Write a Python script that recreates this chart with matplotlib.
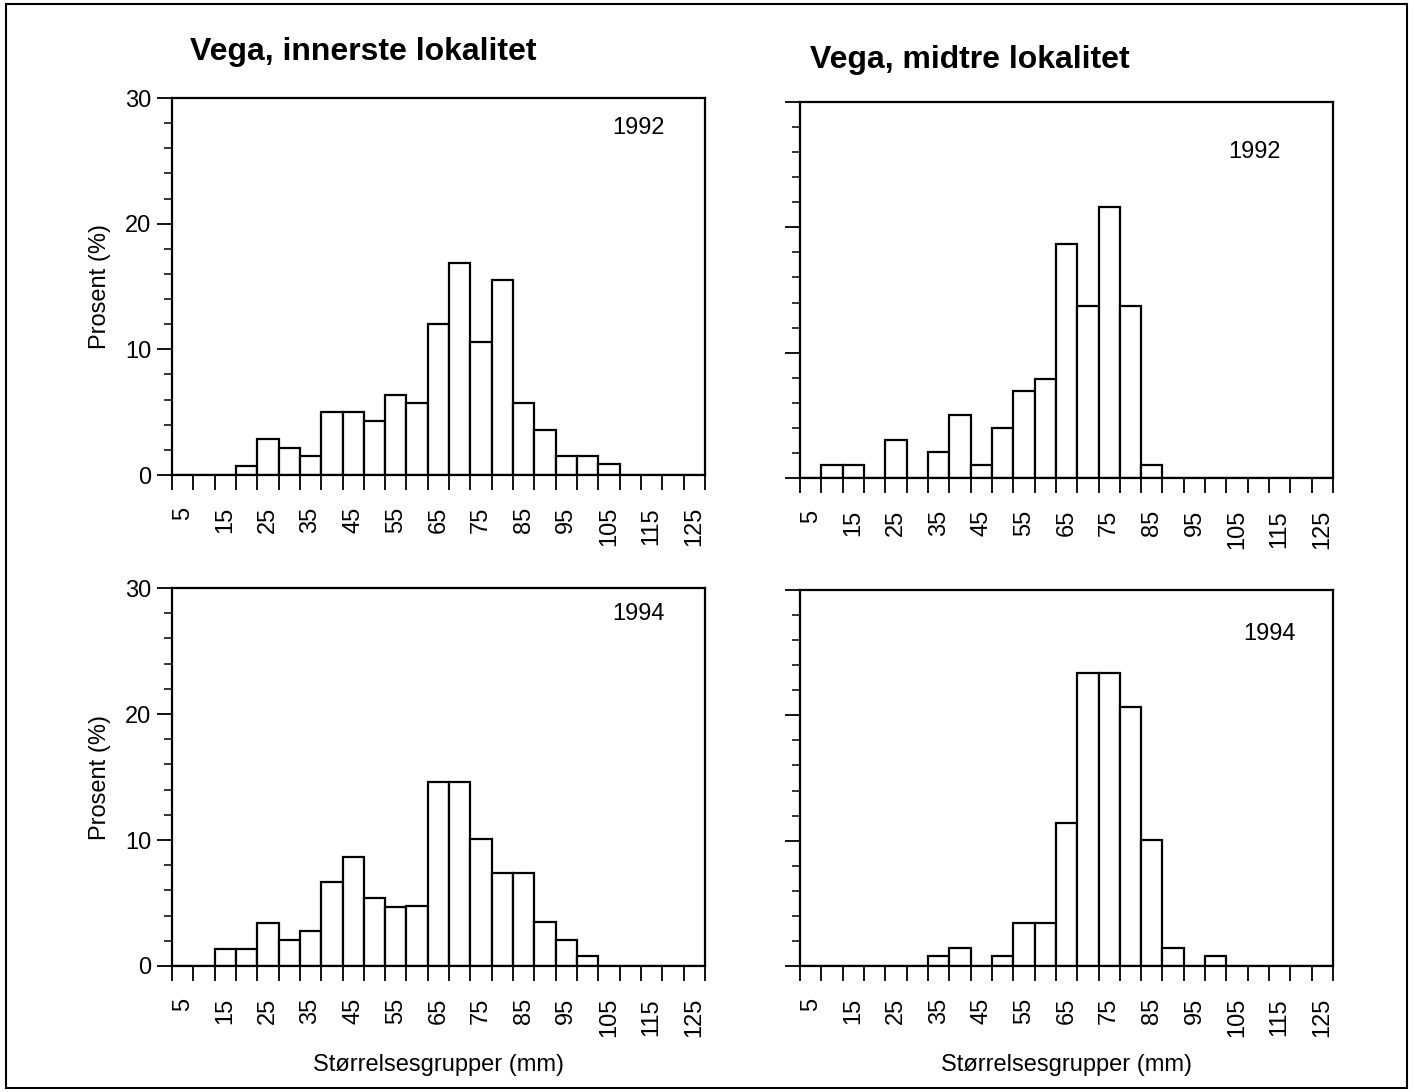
import matplotlib
matplotlib.use("Agg")
import matplotlib.pyplot as plt
from matplotlib.patches import Rectangle
from matplotlib.ticker import MultipleLocator

plt.rcParams['font.family'] = ['Liberation Sans', 'DejaVu Sans']

# størrelsesgrupper (midtpunkt, mm)
groups = [5, 10, 15, 20, 25, 30, 35, 40, 45, 50, 55, 60, 65,
          70, 75, 80, 85, 90, 95, 100, 105, 110, 115, 120, 125]
tick_labels = ["5", "15", "25", "35", "45", "55", "65",
               "75", "85", "95", "105", "115", "125"]

# prosent per gruppe
inner_1992 = [0, 0, 0, 0.75, 2.85, 2.15, 1.5, 5.0, 5.0, 4.3, 6.4, 5.7, 12.0,
              16.9, 10.6, 15.5, 5.7, 3.6, 1.5, 1.5, 0.85, 0, 0, 0, 0]
mid_1992 = [0, 1.0, 1.0, 0, 3.0, 0, 2.05, 5.0, 1.0, 4.0, 6.95, 7.9, 18.65,
            13.7, 21.6, 13.7, 1.0, 0, 0, 0, 0, 0, 0, 0, 0]
inner_1994 = [0, 0, 1.35, 1.35, 3.4, 2.05, 2.75, 6.7, 8.65, 5.4, 4.7, 4.75, 14.6,
              14.6, 10.05, 7.4, 7.4, 3.5, 2.1, 0.8, 0, 0, 0, 0, 0]
mid_1994 = [0, 0, 0, 0, 0, 0, 0.8, 1.45, 0, 0.8, 3.45, 3.45, 11.4,
            23.4, 23.4, 20.7, 10.05, 1.45, 0, 0.8, 0, 0, 0, 0, 0]

fig = plt.figure(figsize=(14.13, 10.92), dpi=100)

panels = [
    ([0.1217, 0.5650, 0.3772, 0.3452], inner_1992, "1992", (111.8, 27.6), True, False),
    ([0.5662, 0.5623, 0.3772, 0.3443], mid_1992, "1992", (109.2, 26.0), False, False),
    ([0.1217, 0.1154, 0.3772, 0.3461], inner_1994, "1994", (111.8, 27.9), True, True),
    ([0.5662, 0.1154, 0.3772, 0.3443], mid_1994, "1994", (112.7, 26.5), False, True),
]

for rect, vals, year, pos, left, bottom in panels:
    ax = fig.add_axes(rect)
    ax.bar(groups, vals, width=5, color="white", edgecolor="black", linewidth=1.6)
    ax.set_xlim(2.5, 127.5)
    ax.set_ylim(0, 30)
    for s in ax.spines.values():
        s.set_linewidth(1.6)
    # etiketter på hver andre gruppe, streker ved gruppegrensene
    ax.set_xticks(groups[::2])
    ax.set_xticklabels(tick_labels, rotation=90, fontsize=17)
    ax.xaxis.set_minor_locator(MultipleLocator(5, offset=2.5))
    ax.tick_params(axis="x", which="major", length=0, pad=23)
    ax.tick_params(axis="x", which="minor", length=11, width=1.3, direction="out")
    ax.set_yticks([0, 10, 20, 30])
    ax.yaxis.set_minor_locator(MultipleLocator(2))
    ax.tick_params(axis="y", which="major", length=11, width=1.3, labelsize=17, pad=4)
    ax.tick_params(axis="y", which="minor", length=6, width=1.1)
    if left:
        ax.set_ylabel("Prosent (%)", fontsize=17, labelpad=10)
    else:
        ax.set_yticklabels([])
    if bottom:
        ax.set_xlabel("Størrelsesgrupper (mm)", fontsize=17, labelpad=12)
    ax.text(pos[0], pos[1], year, fontsize=17, ha="center", va="center")

fig.text(0.1345, 0.952, "Vega, innerste lokalitet", fontsize=23, fontweight="bold",
         ha="left", va="center")
fig.text(0.5732, 0.945, "Vega, midtre lokalitet", fontsize=23, fontweight="bold",
         ha="left", va="center")

fig.patches.append(Rectangle((0.004, 0.004), 0.992, 0.992, transform=fig.transFigure,
                             fill=False, edgecolor="black", linewidth=1.5))

fig.savefig("out.png", dpi=100)
